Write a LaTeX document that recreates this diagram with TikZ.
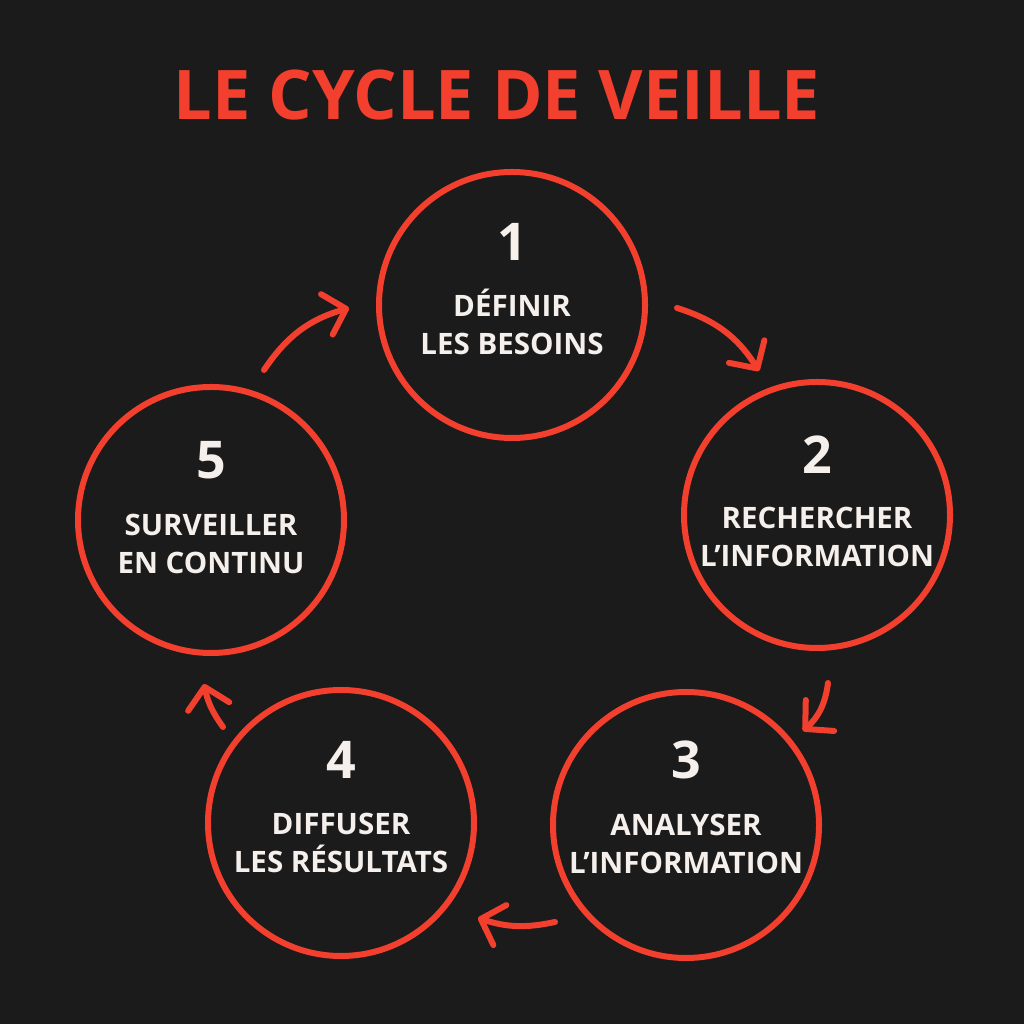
\documentclass[tikz,border=0pt]{standalone}
\usepackage{fontspec}
\setmainfont{Open Sans}
\usetikzlibrary{arrows.meta}
\definecolor{bg}{HTML}{1B1B1B}
\definecolor{cred}{HTML}{F23F2E}
\definecolor{ctext}{HTML}{F6F0EC}
\begin{document}
\begin{tikzpicture}[x=1pt,y=1pt,
  stage/.style={circle,draw=cred,line width=6pt,minimum size=266pt,inner sep=0pt},
  num/.style={text=ctext,font=\bfseries\fontsize{52}{52}\selectfont,anchor=base},
  lbl/.style={text=ctext,font=\bfseries\fontsize{29.5}{29.5}\selectfont,anchor=base},
  flow/.style={draw=cred,line width=6pt,line cap=round,line join=round,
    -{Straight Barb[length=20pt,width=42pt,line cap=round,line join=round]}}
]
\fill[bg] (0,0) rectangle (1024,1024);
\useasboundingbox (0,0) rectangle (1024,1024);

\node[text=cred,font=\bfseries\fontsize{68.5}{68.5}\selectfont,anchor=base] (title) at (497,904) {LE CYCLE DE VEILLE};

% circles
\node[stage] (c1) at (512,719) {};
\node[stage] (c2) at (817,509) {};
\node[stage] (c3) at (686,199) {};
\node[stage] (c4) at (341,201) {};
\node[stage] (c5) at (211,504) {};

% texts
\node[num] (n1) at ([yshift=44]c1.center) {1};
\node[lbl] (l1a) at ([yshift=-12]c1.center) {DÉFINIR};
\node[lbl] (l1b) at ([yshift=-50]c1.center) {LES BESOINS};

\node[num] (n2) at ([yshift=41]c2.center) {2};
\node[lbl] (l2a) at ([yshift=-14]c2.center) {RECHERCHER};
\node[lbl] (l2b) at ([yshift=-52]c2.center) {L’INFORMATION};

\node[num] (n3) at ([yshift=46]c3.center) {3};
\node[lbl] (l3a) at ([yshift=-11]c3.center) {ANALYSER};
\node[lbl] (l3b) at ([yshift=-49]c3.center) {L’INFORMATION};

\node[num] (n4) at ([yshift=44]c4.center) {4};
\node[lbl] (l4a) at ([yshift=-12]c4.center) {DIFFUSER};
\node[lbl] (l4b) at ([yshift=-50]c4.center) {LES RÉSULTATS};

\node[num] (n5) at ([yshift=41]c5.center) {5};
\node[lbl] (l5a) at ([yshift=-16]c5.center) {SURVEILLER};
\node[lbl] (l5b) at ([yshift=-54]c5.center) {EN CONTINU};

% arrow endpoints
\coordinate (s51) at (264,654); \coordinate (e51) at (349,716);
\coordinate (s12) at (677,716); \coordinate (e12) at (759,653);
\coordinate (s23) at (828,341); \coordinate (e23) at (803,293);
\coordinate (s34) at (555,102); \coordinate (e34) at (478,106);
\coordinate (s45) at (223,297); \coordinate (e45) at (204,340);

\draw[flow] (s51) to[bend left=20] (e51);
\draw[flow] (s12) to[bend left=20] (e12);
\draw[flow] (s23) to[bend left=20] (e23);
\draw[flow] (s34) to[bend left=15] (e34);
\draw[flow] (s45) to[bend left=12] (e45);
\end{tikzpicture}
\end{document}
